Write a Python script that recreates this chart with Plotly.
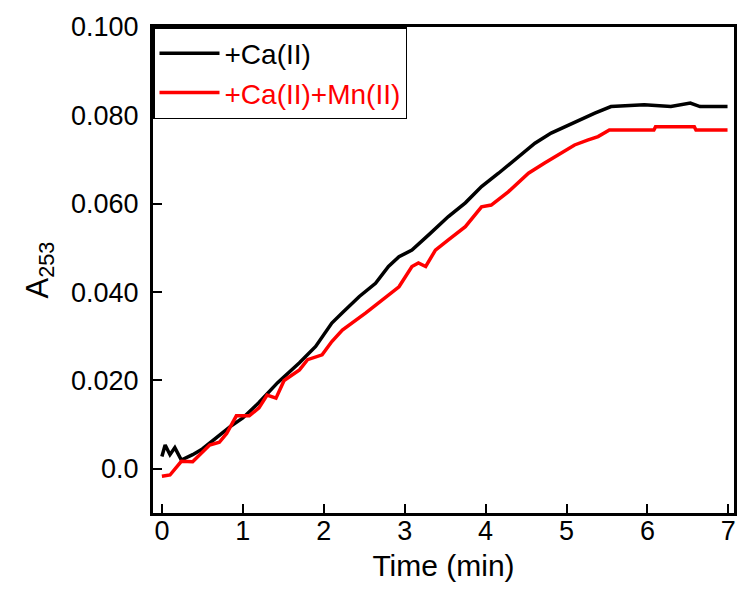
import plotly.graph_objects as go

# +Ca(II)
t_ca = [0, 0.04, 0.1, 0.16, 0.24, 0.38, 0.5, 0.67, 0.84, 1.0, 1.2, 1.43, 1.7, 1.9,
        2.1, 2.23, 2.44, 2.64, 2.8, 2.93, 3.09, 3.3, 3.54, 3.75, 3.95, 4.16, 4.36,
        4.61, 4.81, 5.02, 5.18, 5.35, 5.55, 5.84, 5.96, 6.29, 6.53, 6.65, 6.99]
a_ca = [0.0028, 0.0054, 0.0032, 0.0048, 0.0020, 0.0032, 0.0045, 0.0070, 0.0095,
        0.0115, 0.0150, 0.0195, 0.0240, 0.0277, 0.0330, 0.0353, 0.0390, 0.0420,
        0.0458, 0.0480, 0.0495, 0.0530, 0.0571, 0.0602, 0.0639, 0.0669, 0.0699,
        0.0737, 0.0760, 0.0778, 0.0790, 0.0805, 0.0820, 0.0824, 0.0824, 0.0820,
        0.0828, 0.0820, 0.0820]

# +Ca(II)+Mn(II)
t_camn = [0, 0.1, 0.24, 0.38, 0.59, 0.71, 0.8, 0.92, 1.08, 1.2, 1.3, 1.41, 1.51,
          1.7, 1.8, 1.98, 2.1, 2.23, 2.52, 2.76, 2.93, 3.09, 3.17, 3.26, 3.38,
          3.54, 3.75, 3.95, 4.07, 4.28, 4.53, 4.73, 4.93, 5.1, 5.26, 5.39, 5.53,
          6.08, 6.1, 6.58, 6.6, 6.99]
a_camn = [-0.0017, -0.0014, 0.0017, 0.0016, 0.0054, 0.0060, 0.0080, 0.0120, 0.0120,
          0.0138, 0.0167, 0.0160, 0.0200, 0.0224, 0.0247, 0.0258, 0.0288, 0.0314,
          0.0353, 0.0387, 0.0412, 0.0458, 0.0466, 0.0458, 0.0495, 0.0518, 0.0548,
          0.0593, 0.0597, 0.0627, 0.0669, 0.0692, 0.0714, 0.0733, 0.0744, 0.0752,
          0.0767, 0.0767, 0.0774, 0.0774, 0.0767, 0.0767]

x_ticks = [0, 1, 2, 3, 4, 5, 6, 7]
y_ticks = [0.0, 0.02, 0.04, 0.06, 0.08, 0.10]
y_ticktext = ["0.0", "0.020", "0.040", "0.060", "0.080", "0.100"]

fig = go.Figure()
fig.add_trace(go.Scatter(x=t_ca, y=a_ca, mode="lines", name="+Ca(II)",
                         line=dict(color="black", width=3.5)))
fig.add_trace(go.Scatter(x=t_camn, y=a_camn, mode="lines",
                         name="<span style='color:#ff0000'>+Ca(II)+Mn(II)</span>",
                         line=dict(color="#ff0000", width=3.5)))

font_family = "Liberation Sans, Arial, sans-serif"
fig.update_layout(
    width=739, height=592,
    margin=dict(l=153, r=2, t=27, b=79),
    paper_bgcolor="white", plot_bgcolor="white",
    font=dict(family=font_family, color="black"),
    showlegend=True,
    legend=dict(x=0, y=1, xanchor="left", yanchor="top",
                bgcolor="white", bordercolor="black", borderwidth=1.5,
                font=dict(size=28, color="black"), itemwidth=60,
                tracegroupgap=0),
    xaxis=dict(range=[-0.11, 7.07], tickvals=x_ticks, ticks="inside", ticklen=9,
               tickwidth=2, tickcolor="black", showline=True, linecolor="black",
               linewidth=3, mirror=True, showgrid=False, zeroline=False,
               tickfont=dict(size=27), ticklabelstandoff=-8,
               title=dict(text="Time (min)", font=dict(size=30), standoff=10)),
    yaxis=dict(range=[-0.01, 0.1], tickvals=y_ticks, ticktext=y_ticktext,
               ticks="inside", ticklen=9, tickwidth=2, tickcolor="black",
               showline=True, linecolor="black", linewidth=3, mirror=True,
               showgrid=False, zeroline=False, tickfont=dict(size=27),
               ticklabelstandoff=6,
               title=dict(text="A<sub>253</sub>", font=dict(size=31), standoff=14)),
)

fig.write_html("out.html")
